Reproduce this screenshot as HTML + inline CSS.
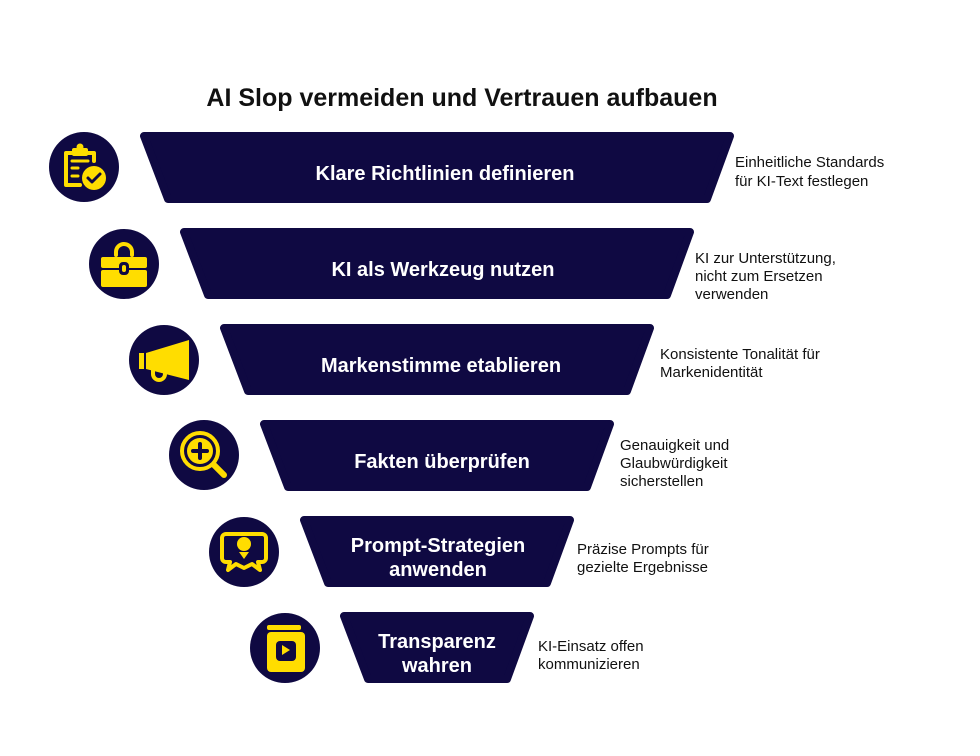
<!DOCTYPE html>
<html><head><meta charset="utf-8"><style>
html,body{margin:0;padding:0;background:#fff;}
svg{display:block;font-family:"Liberation Sans",Arial,sans-serif;}
.bar{fill:#0f0942;stroke:#0f0942;stroke-width:8;stroke-linejoin:round;}
.bt{fill:#fff;font-weight:bold;font-size:20px;text-anchor:middle;}
.d{fill:#111;font-size:15px;}
.c{fill:#0f0942;}
.y{fill:#ffdd00;}
.ys{fill:none;stroke:#ffdd00;stroke-linecap:round;stroke-linejoin:round;}
</style></head><body>
<svg width="980" height="756" viewBox="0 0 980 756">
<text x="462" y="106" text-anchor="middle" font-weight="bold" font-size="25" fill="#111">AI Slop vermeiden und Vertrauen aufbauen</text>

<polygon class="bar" points="144,136 730,136 707,199 168,199"/>
<polygon class="bar" points="184,232 690,232 667,295 208,295"/>
<polygon class="bar" points="224,328 650,328 627,391 248,391"/>
<polygon class="bar" points="264,424 610,424 587,487 288,487"/>
<polygon class="bar" points="304,520 570,520 547,583 328,583"/>
<polygon class="bar" points="344,616 530,616 507,679 368,679"/>

<text class="bt" x="445" y="180">Klare Richtlinien definieren</text>
<text class="bt" x="443" y="276">KI als Werkzeug nutzen</text>
<text class="bt" x="441" y="372">Markenstimme etablieren</text>
<text class="bt" x="442" y="468">Fakten überprüfen</text>
<text class="bt" x="438" y="552">Prompt-Strategien</text>
<text class="bt" x="438" y="576">anwenden</text>
<text class="bt" x="437" y="648">Transparenz</text>
<text class="bt" x="437" y="672">wahren</text>

<text class="d" x="735" y="167">Einheitliche Standards</text>
<text class="d" x="735" y="186">für KI-Text festlegen</text>
<text class="d" x="695" y="263">KI zur Unterstützung,</text>
<text class="d" x="695" y="281">nicht zum Ersetzen</text>
<text class="d" x="695" y="299">verwenden</text>
<text class="d" x="660" y="359">Konsistente Tonalität für</text>
<text class="d" x="660" y="377">Markenidentität</text>
<text class="d" x="620" y="450">Genauigkeit und</text>
<text class="d" x="620" y="468">Glaubwürdigkeit</text>
<text class="d" x="620" y="486">sicherstellen</text>
<text class="d" x="577" y="554">Präzise Prompts für</text>
<text class="d" x="577" y="572">gezielte Ergebnisse</text>
<text class="d" x="538" y="651">KI-Einsatz offen</text>
<text class="d" x="538" y="669">kommunizieren</text>

<g transform="translate(84,167)">
<circle class="c" r="35"/>
<path class="ys" stroke-width="4" d="M-10,-14 h-8 v32 h14"/>
<path class="ys" stroke-width="4" d="M4,-14 h6 v8"/>
<rect class="y" x="-12" y="-19" width="16" height="8" rx="2"/>
<circle class="y" cx="-4" cy="-20" r="3.5"/>
<path class="ys" stroke-width="3" d="M-12,-6 h16 M-12,1 h6 M-12,9 h6"/>
<circle class="y" cx="10" cy="11" r="12"/>
<path d="M4,11 l4,4 l8,-8" fill="none" stroke="#0f0942" stroke-width="3" stroke-linecap="round" stroke-linejoin="round"/>
</g>
<g transform="translate(124,264)">
<circle class="c" r="35"/>
<path class="ys" stroke-width="4" d="M-8,-9 v-3 a8,8 0 0 1 16,0 v3"/>
<rect class="y" x="-23" y="-7" width="46" height="11" rx="2"/>
<rect class="y" x="-23" y="6" width="46" height="17" rx="2"/>
<rect x="-5" y="-2" width="10" height="13" rx="4" fill="#0f0942"/>
<rect x="-2" y="1" width="4" height="7" rx="2" fill="#ffdd00"/>
</g>
<g transform="translate(164,360)">
<circle class="c" r="35"/>
<rect class="y" x="-25" y="-7" width="5" height="16"/>
<path class="y" d="M-18,-7 L25,-20 L25,20 L-18,9 Z"/>
<path class="ys" stroke-width="4" d="M-11,10 v4 a6,6 0 0 0 12,0 v-2"/>
</g>
<g transform="translate(204,455)">
<circle class="c" r="35"/>
<circle class="ys" cx="-4" cy="-4" r="18" stroke-width="4"/>
<circle class="y" cx="-4" cy="-4" r="13"/>
<path d="M-4,-11 v14 M-11,-4 h14" stroke="#0f0942" stroke-width="4" stroke-linecap="round"/>
<path class="ys" stroke-width="6" d="M10,10 L20,20"/>
</g>
<g transform="translate(244,552)">
<circle class="c" r="35"/>
<path class="ys" stroke-width="4" d="M-18,-18 h36 a4,4 0 0 1 4,4 v20 a4,4 0 0 1 -4,4 h-4 l2,8 l-8,-6 l-8,4 l-8,-4 l-8,6 l2,-8 h-4 a4,4 0 0 1 -4,-4 v-20 a4,4 0 0 1 4,-4 z"/>
<circle class="y" cx="0" cy="-8" r="7"/>
<path class="y" d="M-5,0 h10 l-5,7 z"/>
</g>
<g transform="translate(285,648)">
<circle class="c" r="35"/>
<rect class="y" x="-18" y="-23" width="34" height="5" rx="2"/>
<rect class="y" x="-18" y="-16" width="38" height="40" rx="4"/>
<rect x="-9" y="-7" width="20" height="20" rx="4" fill="#0f0942"/>
<path class="y" d="M-3,-3 l8,5 l-8,5 z"/>
</g>
</svg>
</body></html>
